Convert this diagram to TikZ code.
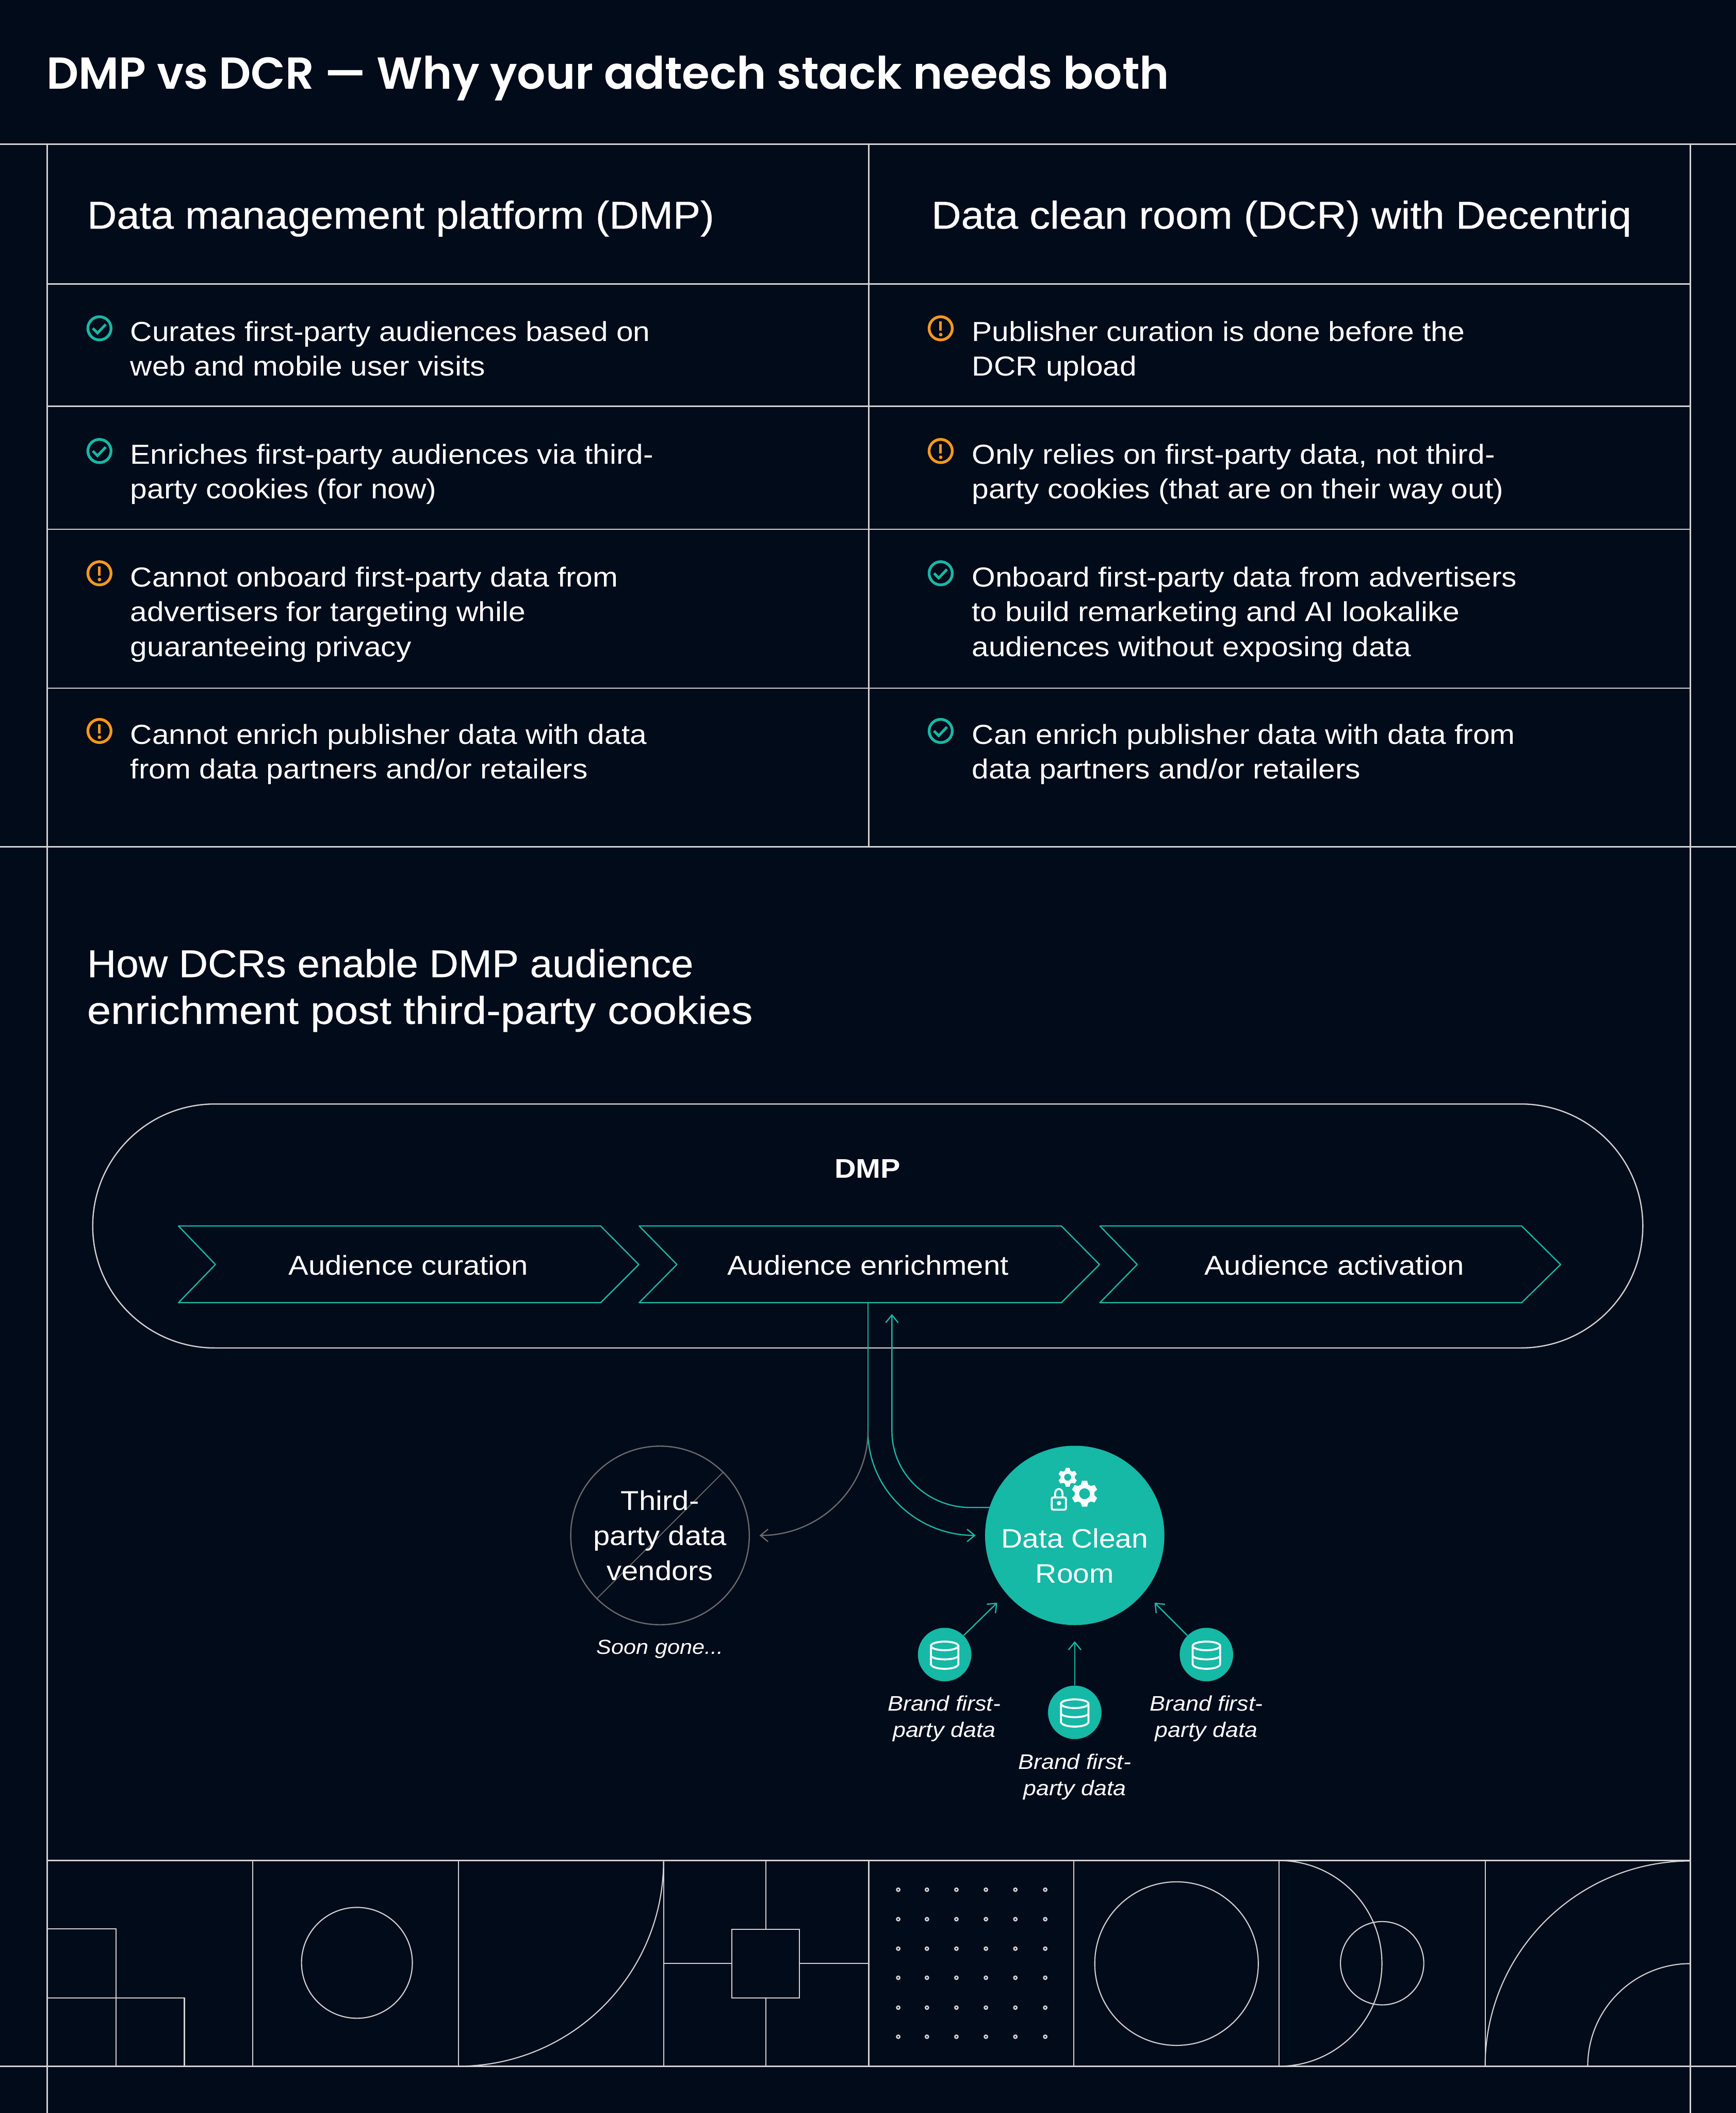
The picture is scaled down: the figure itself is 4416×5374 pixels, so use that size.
\documentclass[tikz,border=0pt]{standalone}
\usepackage{fontspec}
\usetikzlibrary{arrows.meta}
\setmainfont{Liberation Sans}[FakeStretch=1.10]
\newfontfamily\titlefont{Poppins}[UprightFont=* SemiBold]
\newfontfamily\headfont{Liberation Sans}[FakeBold=0.5,FakeStretch=1.06]
\newfontfamily\secfonta{Liberation Sans}[FakeBold=0.5,FakeStretch=1.04]
\newfontfamily\secfontb{Liberation Sans}[FakeBold=0.5,FakeStretch=1.105]
\definecolor{bg}{HTML}{020B1A}
\definecolor{rule}{HTML}{D2D2D2}
\definecolor{teal}{HTML}{16B8A6}
\definecolor{warn}{HTML}{F7981D}
\definecolor{ghost}{HTML}{6A6A6A}
\tikzset{
  x=0.01cm,y=-0.01cm,
  gridline/.style={draw=rule,line width=1pt},
  thinline/.style={draw=rule,line width=0.8pt},
  tealline/.style={draw=teal,line width=0.9pt},
  barb/.style={-{Straight Barb[length=5.5pt,width=9pt,line width=0.9pt]}},
  body/.style={text=white,inner sep=0pt,align=left,anchor=west,font=\fontsize{19.9pt}{25.1pt}\selectfont},
  diag/.style={text=white,inner sep=0pt,align=center,font=\fontsize{19.7pt}{25.3pt}\selectfont},
  small/.style={text=white,inner sep=0pt,align=center,font=\fontsize{15.2pt}{18.8pt}\selectfont\itshape},
  head/.style={text=white,inner sep=0pt,align=left,anchor=west,font=\fontsize{28pt}{33.8pt}\selectfont\headfont},
  okring/.style={draw=teal,line width=2pt},
  warnring/.style={draw=warn,line width=2pt},
  dbdisc/.style={circle,fill=teal,minimum size=1.36cm,inner sep=0pt},
  dbline/.style={draw=white,line width=1.4pt},
  chevron/.style={tealline,line join=round},
}
\newcommand{\okicon}[2]{%
  \draw[okring] (#1,#2) circle[radius=29.5];
  \draw[draw=teal,line width=1.9pt] (#1-17,#2) -- (#1-5,#2+12) -- (#1+16,#2-10);}
\newcommand{\warnicon}[2]{%
  \draw[warnring] (#1,#2) circle[radius=29.5];
  \draw[draw=warn,line width=1.9pt] (#1,#2-17) -- (#1,#2+6);
  \fill[warn] (#1,#2+16) circle[radius=4.5];}
\newcommand{\dbicon}[2]{%
  \draw[dbline] (#1,#2-22) ellipse[x radius=35,y radius=11];
  \draw[dbline] (#1-35,#2-22) -- (#1-35,#2+25) .. controls (#1-30,#2+40) and (#1+30,#2+40) .. (#1+35,#2+25) -- (#1+35,#2-22);
  \draw[dbline] (#1-35,#2+4) .. controls (#1-25,#2+15) and (#1+25,#2+15) .. (#1+35,#2+4);}
\newcommand{\gearicon}[4]{% x y outer hole
  \foreach \a in {0,60,120,180,240,300}
    \fill[white,rotate around={\a:(#1,#2)}] (#1-#3*0.28,#2-#3*0.7) -- (#1-#3*0.2,#2-#3) -- (#1+#3*0.2,#2-#3) -- (#1+#3*0.28,#2-#3*0.7) -- cycle;
  \fill[white,even odd rule] (#1,#2) circle[radius=#3*0.76] (#1,#2) circle[radius=#4];}
\begin{document}
\begin{tikzpicture}
\useasboundingbox (0,0) rectangle (4416,5374);
\fill[bg] (0,0) rectangle (4416,5374);
% --- frame
\draw[gridline] (0,367) -- (4416,367);
\draw[gridline] (0,2154) -- (4416,2154);
\draw[gridline] (0,5255) -- (4416,5255);
\draw[gridline] (120,722) -- (4300,722);
\draw[gridline] (120,1033) -- (4300,1033);
\draw[gridline] (120,1346) -- (4300,1346);
\draw[gridline] (120,1750) -- (4300,1750);
\draw[gridline] (120,4732) -- (4300,4732);
\draw[thinline] (120,367) -- (120,5374);
\draw[thinline] (4300,367) -- (4300,5374);
\draw[thinline] (2210,367) -- (2210,2154);
% --- headings
\node[text=white,inner sep=0pt,anchor=west,font=\fontsize{32.4pt}{38pt}\selectfont\titlefont] (title) at (118,199) {DMP vs DCR — Why your adtech stack needs both};
\node[head] (hleft) at (221,556) {Data management platform (DMP)};
\node[head] (hright) at (2369,556) {Data clean room (DCR) with Decentriq};
% --- left column
\okicon{253}{835}
\node[body] (l1) at (331,894) {\strut Curates first-party audiences based on\\\strut web and mobile user visits};
\okicon{253}{1147}
\node[body] (l2) at (331,1206) {\strut Enriches first-party audiences via third-\\\strut party cookies (for now)};
\warnicon{253}{1458}
\node[body] (l3) at (331,1563) {\strut Cannot onboard first-party data from\\advertisers for targeting while\\\strut guaranteeing privacy};
\warnicon{253}{1859}
\node[body] (l4) at (331,1919) {\strut Cannot enrich publisher data with data\\\strut from data partners and/or retailers};
% --- right column
\warnicon{2393}{835}
\node[body] (r1) at (2472,894) {\strut Publisher curation is done before the\\\strut DCR upload};
\warnicon{2393}{1147}
\node[body] (r2) at (2472,1206) {\strut Only relies on first-party data, not third-\\\strut party cookies (that are on their way out)};
\okicon{2393}{1458}
\node[body] (r3) at (2472,1563) {\strut Onboard first-party data from advertisers\\to build remarketing and AI lookalike\\\strut audiences without exposing data};
\okicon{2393}{1859}
\node[body] (r4) at (2472,1919) {\strut Can enrich publisher data with data from\\\strut data partners and/or retailers};
% --- section heading
\node[head] (sec) at (221,2519) {\secfonta How DCRs enable DMP audience\\\secfontb enrichment post third-party cookies};
% --- DMP pill
\node[draw=rule,line width=0.9pt,rectangle,rounded corners=3.1cm,minimum width=39.41cm,minimum height=6.2cm,inner sep=0pt] (pill) at (2207.5,3118) {};
\node[text=white,inner sep=0pt,font=\fontsize{19.5pt}{25pt}\selectfont\bfseries] (dmp) at (2207,2972) {DMP};
% --- chevrons
\draw[chevron] (454,3118) -- (1528,3118) -- (1625,3216) -- (1528,3313) -- (454,3313) -- (548,3216) -- cycle;
\draw[chevron] (1626,3118) -- (2700,3118) -- (2797,3216) -- (2700,3313) -- (1626,3313) -- (1722,3216) -- cycle;
\draw[chevron] (2798,3118) -- (3871,3118) -- (3970,3216) -- (3871,3313) -- (2798,3313) -- (2893,3216) -- cycle;
\node[diag] (c1) at (1039,3218) {Audience curation};
\node[diag] (c2) at (2208,3218) {Audience enrichment};
\node[diag] (c3) at (3394,3218) {Audience activation};
\coordinate (outstart) at (2208,3313);
\coordinate (split) at (2208,3640);
\coordinate (backin) at (2269,3342);
\coordinate (backbend) at (2269,3640);
\coordinate (backleft) at (2469,3834);
% --- vendor node
\node[circle,draw=ghost,line width=0.9pt,minimum size=4.54cm,inner sep=0pt] (vendor) at (1679,3905) {};
\draw[draw=ghost,line width=0.7pt] (vendor.45) -- (vendor.225);
\node[diag] (vendtext) at (1679,3905) {Third-\\party data\\vendors};
\node[small,font=\fontsize{14.7pt}{18.8pt}\selectfont\itshape] (soon) at (1679,4194) {Soon gone...};
% --- clean room node
\node[circle,fill=teal,minimum size=4.56cm,inner sep=0pt] (dcr) at (2734,3905) {};
\node[diag,font=\fontsize{19.3pt}{25.3pt}\selectfont] (dcrtext) at (2734,3957) {Data Clean\\Room};
\coordinate (dcrleft) at (2522,3834);
\coordinate (dcrin) at (2482,3905);
\coordinate (vendin) at (1932,3905);
% --- connectors
\draw[tealline] (outstart) -- (split);
\draw[tealline,barb] (split) .. controls (2208,3786) and (2330,3905) .. (dcrin);
\draw[draw=ghost,line width=0.9pt,barb] (split) .. controls (2208,3786) and (2084,3905) .. (vendin);
\draw[tealline,barb] (dcrleft) -- (backleft) .. controls (2359,3834) and (2269,3747) .. (backbend) -- (backin);
% --- icons in clean room
\gearicon{2716}{3757}{24}{9}
\gearicon{2759}{3799}{33}{14}
\draw[draw=white,line width=1.4pt,rounded corners=1pt] (2675.5,3808.5) rectangle (2711.5,3839.5);
\draw[draw=white,line width=1.4pt] (2684,3808) -- (2684,3799) .. controls (2684,3783) and (2703,3783) .. (2703,3799) -- (2703,3808);
\fill[white] (2694,3823) circle[radius=5.5];
% --- brand sources
\node[dbdisc] (db1) at (2403,4208) {};
\node[dbdisc] (db2) at (2734,4355) {};
\node[dbdisc] (db3) at (3069,4208) {};
\dbicon{2403}{4208}
\dbicon{2734}{4355}
\dbicon{3069}{4208}
\coordinate (t1) at (2537,4076);
\coordinate (t2) at (2734,4174);
\coordinate (t3) at (2937,4076);
\draw[tealline,barb] (db1.45) -- (t1);
\draw[tealline,barb] (db2.north) -- (t2);
\draw[tealline,barb] (db3.135) -- (t3);
\node[small] (b1) at (2402,4371) {Brand first-\\party data};
\node[small] (b2) at (2734,4519) {Brand first-\\party data};
\node[small] (b3) at (3069,4371) {Brand first-\\party data};
% --- decorative strip
\foreach \x in {643,1166,1688,2210,2732,3254,3778}
  \draw[thinline] (\x,4732) -- (\x,5255);
% cell 1
\draw[thinline] (120,4906) -- (295,4906) -- (295,5255);
\draw[thinline] (120,5081) -- (469,5081) -- (469,5255);
% cell 2
\draw[thinline] (908,4992) circle[radius=141];
% cell 3
\draw[thinline] (1166,5255) arc[start angle=90,end angle=0,radius=522];
% cell 4
\draw[thinline] (1862,4907) rectangle (2034,5081);
\draw[thinline] (1948,4732) -- (1948,4907) (1948,5081) -- (1948,5255);
\draw[thinline] (1688,4994) -- (1862,4994) (2034,4994) -- (2210,4994);
% cell 5
\foreach \x in {2285,2358,2433,2508,2583,2659}
  \foreach \y in {4806,4881,4956,5030,5106,5180}
    \draw[draw=rule,line width=1pt] (\x,\y) circle[radius=4];
% cell 6
\draw[thinline] (2993,4994) circle[radius=208];
% cell 7
\draw[thinline] (3254,4732) arc[start angle=-90,end angle=90,radius=261.5];
\draw[thinline] (3516,4993) circle[radius=106];
% cell 8
\draw[thinline] (3778,5255) arc[start angle=180,end angle=270,radius=522];
\draw[thinline] (4039,5255) arc[start angle=180,end angle=270,radius=261];
\end{tikzpicture}
\end{document}
